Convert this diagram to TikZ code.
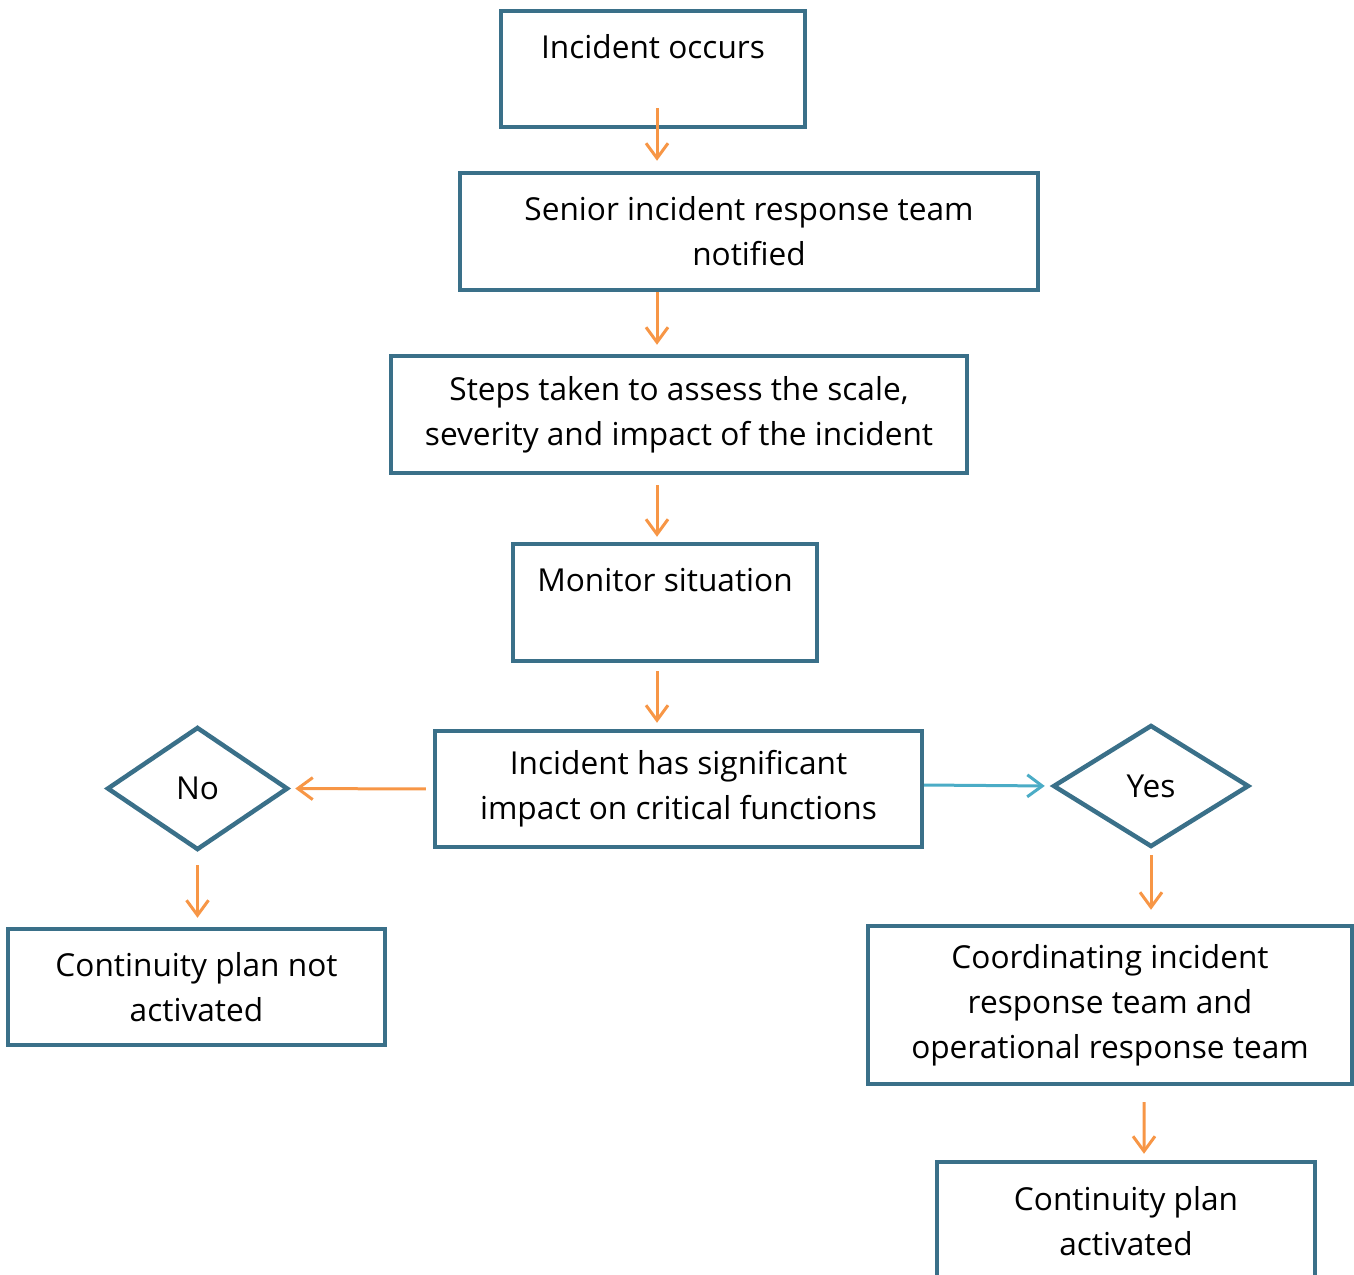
\documentclass[tikz,border=0pt]{standalone}
\usepackage{fontspec}
\setmainfont{Open Sans}
\usetikzlibrary{shapes.geometric,arrows.meta}
\definecolor{boxline}{HTML}{3A7089}
\definecolor{flowor}{HTML}{F79646}
\definecolor{flowbl}{HTML}{4BACC6}
\tikzset{
  stepbox/.style = {shape=rectangle, draw=boxline, line width=0.09cm,
    align=center, inner sep=0pt},
  choice/.style = {shape=diamond, draw=boxline, line width=0.09cm,
    inner sep=0pt},
  flow/.style = {draw=flowor, line width=0.06cm,
    -{Straight Barb[length=0.3cm,width=0.44cm]}},
}
\begin{document}
\begin{tikzpicture}[x=0.02cm, y=-0.02cm,
  every node/.append style = {font=\fontsize{18}{25.6}\selectfont}]
  \useasboundingbox (0,0) rectangle (1354,1274);
  \coordinate (spine) at (657,0);
  \node[stepbox, minimum width=6.08cm, minimum height=2.32cm] (inc) at (653,69)
    {Incident occurs\\ ~};
  \node[stepbox, minimum width=11.56cm, minimum height=2.34cm] (sen) at (749,231.5)
    {Senior incident response team\\ notified};
  \node[stepbox, minimum width=11.52cm, minimum height=2.34cm] (steps) at (679,414.5)
    {Steps taken to assess the scale,\\ severity and impact of the incident};
  \node[stepbox, minimum width=6.08cm, minimum height=2.34cm] (mon) at (665,602.5)
    {Monitor situation\\ ~};
  \node[stepbox, minimum width=9.74cm, minimum height=2.32cm] (imp) at (678.5,789)
    {Incident has significant\\ impact on critical functions};
  \node[choice, minimum width=3.62cm, minimum height=2.46cm] (no) at (197.5,788.5) {No};
  \node[choice, minimum width=3.92cm, minimum height=2.44cm] (yes) at (1151,786) {Yes};
  \node[stepbox, minimum width=7.54cm, minimum height=2.32cm] (notact) at (196.5,987)
    {Continuity plan not\\ activated};
  \node[stepbox, minimum width=9.68cm, minimum height=3.16cm] (coord) at (1110,1005)
    {Coordinating incident\\ response team and\\ operational response team};
  \node[stepbox, minimum width=7.56cm, minimum height=2.36cm] (act) at (1126,1221)
    {Continuity plan\\ activated};

  % main line
  \draw[flow, shorten <=-0.42cm, shorten >=0.2cm] (inc.south -| spine) -- (sen.north -| spine);
  \draw[flow, shorten >=0.18cm] (sen.south -| spine) -- (steps.north -| spine);
  \draw[flow, shorten <=0.2cm, shorten >=0.1cm] (steps.south -| spine) -- (mon.north -| spine);
  \draw[flow, shorten <=0.16cm, shorten >=0.12cm] (mon.south -| spine) -- (imp.north -| spine);
  % decision
  \draw[flow, shorten <=0.14cm, shorten >=0.1cm] (imp.west) -- (no.east);
  \draw[flow, draw=flowbl, shorten >=0.12cm] ([yshift=0.08cm]imp.east) -- (yes.west);
  \draw[flow, shorten <=0.26cm, shorten >=0.18cm] (no.south) -- (notact.north -| no.south);
  \draw[flow, shorten <=0.12cm, shorten >=0.28cm] (yes.south) -- (coord.north -| yes.south);
  \draw[flow, shorten <=0.32cm, shorten >=0.12cm] ([xshift=0.68cm]coord.south) -- ([xshift=0.36cm]act.north);
\end{tikzpicture}
\end{document}
